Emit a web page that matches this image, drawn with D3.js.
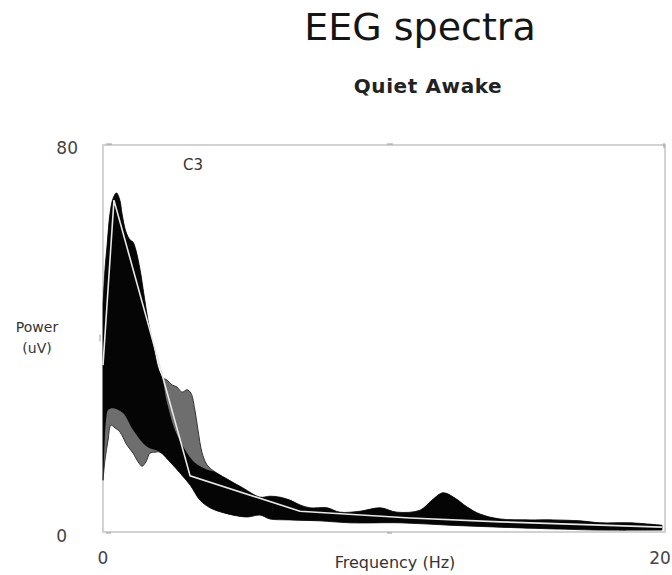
<!DOCTYPE html>
<html>
<head>
<meta charset="utf-8">
<script src="https://cdn.jsdelivr.net/npm/d3@7"></script>
<style>
  html, body { margin: 0; padding: 0; background: #fff; }
  svg { display: block; }
  text { font-family: "DejaVu Sans", Verdana, sans-serif; }
</style>
</head>
<body>
<svg id="chart" width="672" height="575"></svg>
<script>
// Upper edge of the full spread of C3 spectra (Hz, µV)
const outerTopFreq  = [0, 0.07, 0.14, 0.25, 0.36, 0.48, 0.60, 0.68, 0.82, 0.96, 1.07, 1.17, 1.32, 1.46, 1.60, 1.78, 1.96, 2.10, 2.28, 2.46, 2.63, 2.81, 2.99, 3.13, 3.27, 3.38, 3.52, 3.70, 3.99, 4.34, 4.98, 5.59, 5.94, 6.30, 6.65, 7.01, 7.37, 7.97, 8.43, 9.15, 9.86, 10.46, 11.28, 11.71, 12.10, 12.53, 12.95, 13.42, 14.13, 15.20, 16.01, 16.98, 17.69, 18.75, 19.89];
const outerTopPower = [46.9, 54.2, 58.9, 65.9, 69.0, 70.1, 68.6, 65.7, 62.0, 60.4, 59.9, 58.3, 54.2, 49.0, 43.8, 38.7, 33.9, 32.0, 31.4, 30.4, 30.0, 28.9, 29.4, 28.7, 25.2, 21.1, 16.5, 13.9, 12.4, 11.2, 9.1, 7.2, 7.4, 7.2, 6.6, 5.6, 5.0, 5.0, 4.1, 4.3, 5.0, 4.1, 4.5, 6.6, 8.1, 7.0, 5.2, 3.7, 2.7, 2.5, 2.5, 2.3, 1.9, 1.9, 1.4];

// Lower edge of the full spread
const outerBottomFreq  = [0, 0.07, 0.18, 0.28, 0.43, 0.60, 0.85, 1.07, 1.25, 1.39, 1.53, 1.67, 1.85, 2.03, 2.38, 2.74, 3.10, 3.45, 3.81, 4.34, 5.12, 5.59, 5.94, 6.65, 7.72, 8.79, 10.57, 12.35, 14.13, 16.26, 17.69, 19.89];
const outerBottomPower = [10.7, 14.9, 19.0, 22.1, 21.5, 20.7, 18.0, 16.3, 14.5, 13.6, 14.5, 16.3, 16.5, 16.5, 14.5, 12.2, 9.7, 6.6, 5.0, 3.9, 3.1, 3.5, 2.7, 2.5, 2.3, 1.9, 1.9, 1.4, 1.0, 0.6, 0.4, 0.4];

// Dense core where most epochs overlap
const coreTopFreq  = [0, 0.07, 0.14, 0.25, 0.36, 0.48, 0.60, 0.68, 0.82, 0.96, 1.07, 1.17, 1.32, 1.46, 1.60, 1.78, 1.96, 2.10, 2.28, 2.56, 2.92, 3.27, 3.74, 3.99, 4.34, 4.98, 5.59, 5.94, 6.30, 6.65, 7.01, 7.37, 7.97, 8.43, 9.15, 9.86, 10.46, 11.28, 11.71, 12.10, 12.53, 12.95, 13.42, 14.13, 15.20, 16.01, 16.98, 17.69, 18.75, 19.89];
const coreTopPower = [46.9, 54.2, 58.9, 65.9, 69.0, 70.1, 68.6, 65.7, 62.0, 60.4, 59.9, 58.3, 54.2, 49.0, 43.8, 38.7, 33.9, 32.0, 26.7, 21.1, 17.0, 14.3, 12.8, 12.4, 11.2, 9.1, 7.2, 7.4, 7.2, 6.6, 5.6, 5.0, 5.0, 4.1, 4.3, 5.0, 4.1, 4.5, 6.6, 8.1, 7.0, 5.2, 3.7, 2.7, 2.5, 2.5, 2.3, 1.9, 1.9, 1.4];
const coreBottomFreq  = [0, 0.04, 0.11, 0.18, 0.36, 0.71, 1.07, 1.57, 2.03, 2.38, 2.74, 3.10, 3.45, 3.81, 4.34, 5.12, 5.59, 5.94, 6.65, 7.72, 8.79, 10.57, 12.35, 14.13, 16.26, 17.69, 19.89];
const coreBottomPower = [10.7, 15.9, 23.2, 25.2, 25.6, 24.6, 21.1, 17.6, 16.5, 14.5, 12.2, 9.7, 6.6, 5.0, 3.9, 3.1, 3.5, 2.7, 2.5, 2.3, 1.9, 1.9, 1.4, 1.0, 0.6, 0.4, 0.4];

// Mean spectrum
const meanFreq  = [0, 0.39, 3.10, 7.01, 10.93, 14.13, 19.89];
const meanPower = [34.5, 68.6, 11.6, 4.3, 2.9, 2.1, 1.0];

// Axis labels
const xTickLabels = ["0", "20"];
const yTickLabels = ["0", "80"];

const svg = d3.select("#chart");
const margin = { left: 103, right: 7, top: 145, bottom: 43 };
const W = 672, H = 575;

const x = d3.scaleLinear().domain([0, 20]).range([margin.left, W - margin.right]);
const y = d3.scaleLinear().domain([0, 80]).range([H - margin.bottom, margin.top]);

// Titles
svg.append("text").attr("x", 420).attr("y", 40).attr("text-anchor", "middle")
  .attr("font-size", 38).attr("fill", "#151515").text("EEG spectra");
svg.append("text").attr("x", 428).attr("y", 93).attr("text-anchor", "middle")
  .attr("font-size", 20).attr("font-weight", "bold").attr("fill", "#222")
  .attr("letter-spacing", 0.6).text("Quiet Awake");

// Frame
const frame = svg.append("g").attr("stroke", "#d2d2d2").attr("stroke-width", 2).attr("fill", "none");
frame.append("rect")
  .attr("x", x(0)).attr("y", y(80))
  .attr("width", x(20) - x(0)).attr("height", y(0) - y(80));

// Small tick marks along the frame
const tickG = svg.append("g").attr("stroke", "#9a9a9a").attr("stroke-width", 1);
[0, 10].forEach(f => {
  tickG.append("line").attr("x1", x(f) + 3).attr("x2", x(f) + 9).attr("y1", y(80) - 1).attr("y2", y(80) - 1);
  tickG.append("line").attr("x1", x(f) + 3).attr("x2", x(f) + 8).attr("y1", y(0) + 1).attr("y2", y(0) + 1);
});
tickG.append("line").attr("x1", x(0) - 3).attr("x2", x(0) - 3).attr("y1", y(40) - 4).attr("y2", y(40) + 3);
tickG.append("line").attr("x1", x(20) - 1).attr("x2", x(20) - 1).attr("y1", y(80) - 2).attr("y2", y(80) + 3);

// Builds a closed band from an upper and a lower edge
const edge = d3.line().x(d => x(d[0])).y(d => y(d[1])).curve(d3.curveCatmullRom.alpha(0.5));
function bandPath(tf, tp, bf, bp) {
  const top = tf.map((f, i) => [f, tp[i]]);
  const bottom = bf.map((f, i) => [f, bp[i]]).reverse();
  return edge(top) + "L" + edge(bottom).slice(1) + "Z";
}

const plot = svg.append("g");

plot.append("path")
  .attr("d", bandPath(outerTopFreq, outerTopPower, outerBottomFreq, outerBottomPower))
  .attr("fill", "#6e6e6e").attr("stroke", "#333").attr("stroke-width", 1);

plot.append("path")
  .attr("d", bandPath(coreTopFreq, coreTopPower, coreBottomFreq, coreBottomPower))
  .attr("fill", "#050505");

// Mean curve
plot.append("path")
  .datum(meanFreq.map((f, i) => [f, meanPower[i]]))
  .attr("d", d3.line().x(d => x(d[0])).y(d => y(d[1])))
  .attr("fill", "none").attr("stroke", "#e8e8e8").attr("stroke-width", 1.6);

// Tick labels
const lab = svg.append("g").attr("fill", "#444").attr("font-size", 17);
lab.append("text").attr("x", 78).attr("y", y(80) + 9).attr("text-anchor", "end").text(yTickLabels[1]);
lab.append("text").attr("x", 67).attr("y", y(0) + 10).attr("text-anchor", "end").text(yTickLabels[0]);
lab.append("text").attr("x", x(0)).attr("y", 564).attr("text-anchor", "middle").text(xTickLabels[0]);
lab.append("text").attr("x", x(20) - 5).attr("y", 564).attr("text-anchor", "middle").text(xTickLabels[1]);

// Axis titles
const at = svg.append("g").attr("fill", "#333").attr("font-size", 14).attr("text-anchor", "middle");
at.append("text").attr("x", 37).attr("y", 332).text("Power");
at.append("text").attr("x", 37).attr("y", 353).text("(uV)");
at.append("text").attr("x", 395).attr("y", 568).attr("font-size", 16).text("Frequency (Hz)");

// Electrode label
svg.append("text").attr("x", 193).attr("y", 170).attr("text-anchor", "middle")
  .attr("font-size", 15).attr("fill", "#333").text("C3");
</script>
</body>
</html>
